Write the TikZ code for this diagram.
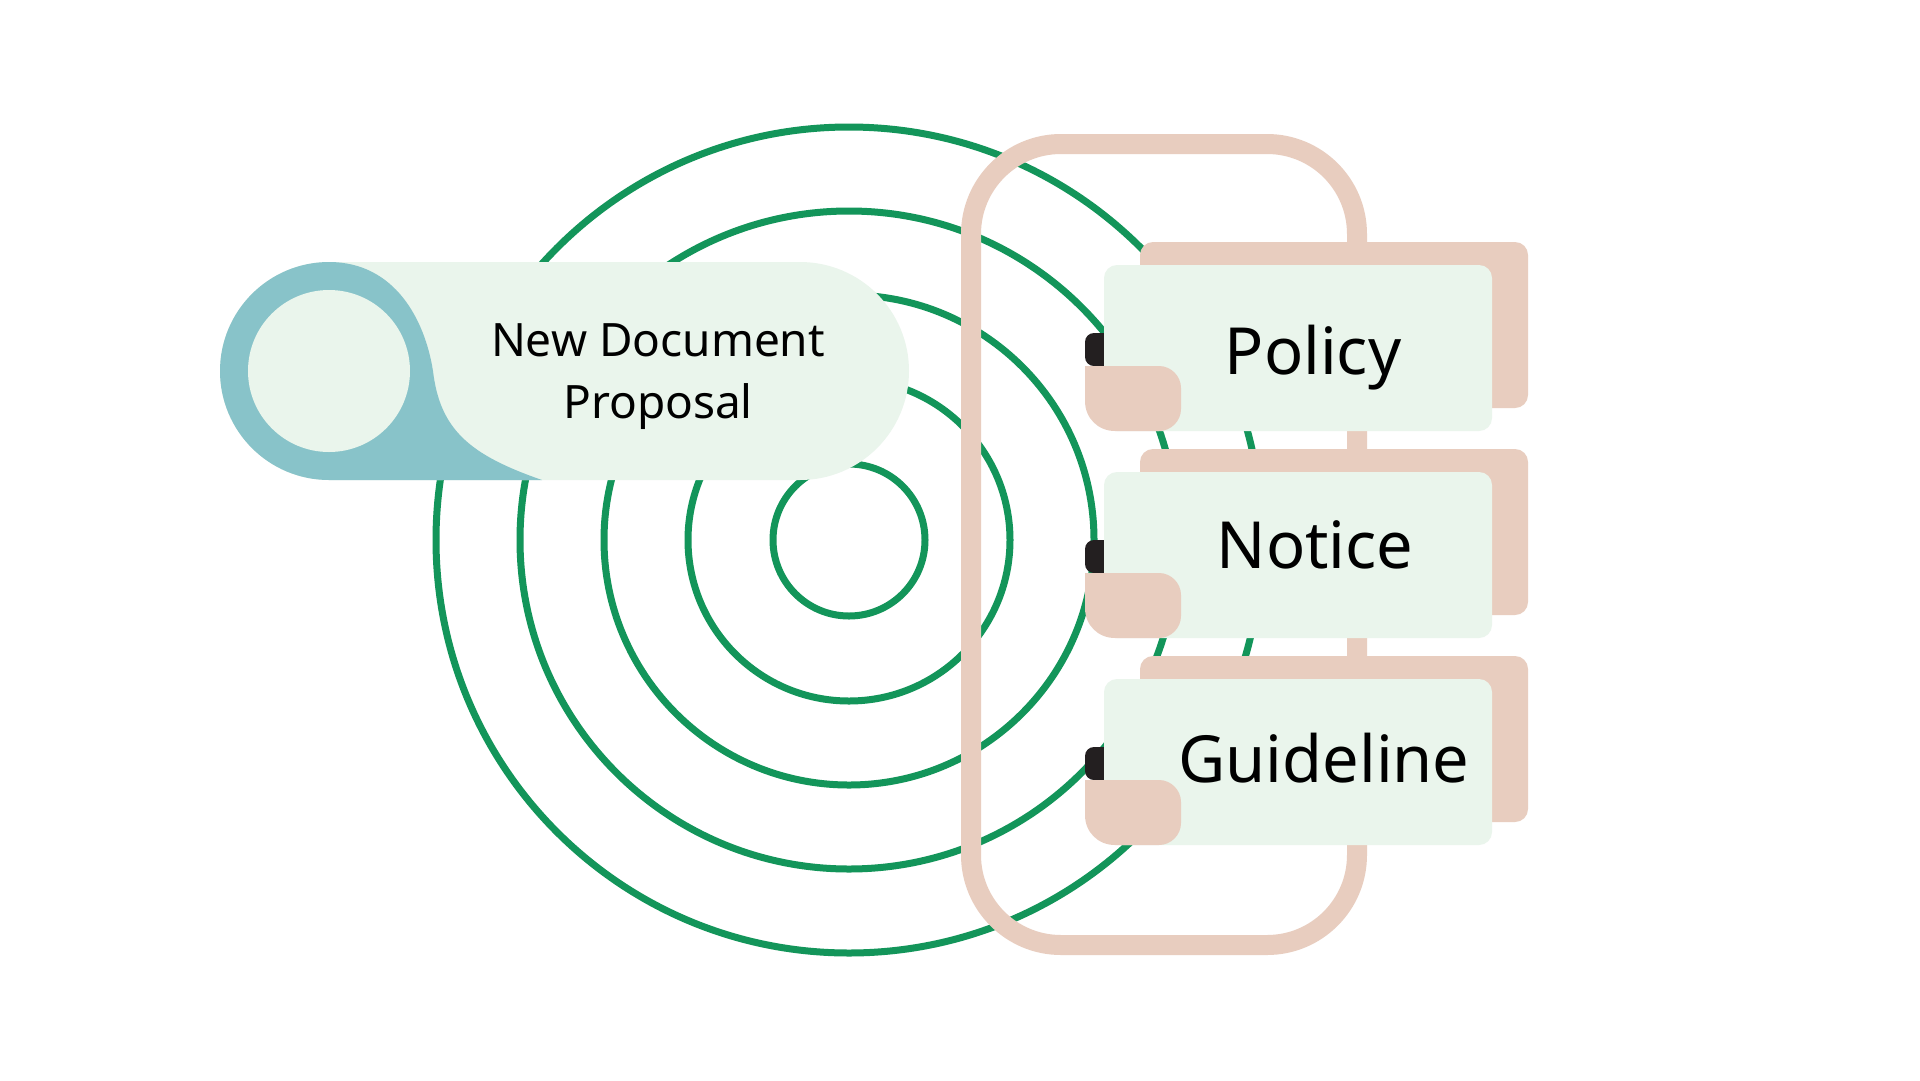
\documentclass[tikz,border=0pt]{standalone}
\usepackage{fontspec}
\setmainfont{Noto Sans}
\definecolor{ringgreen}{HTML}{13955A}
\definecolor{peach}{HTML}{E8CDBF}
\definecolor{teal}{HTML}{88C3C9}
\definecolor{mint}{HTML}{EAF5EC}
\definecolor{tabdark}{HTML}{231F20}
\tikzset{
  ring/.style={draw=ringgreen, line width=7},
  backbox/.style={fill=peach, rounded corners=13},
  frontbox/.style={fill=mint, rounded corners=13},
  darktab/.style={fill=tabdark, rounded corners=9},
  boxlabel/.style={anchor=base, inner sep=0, font=\fontsize{65}{65}\selectfont},
  cyllabel/.style={anchor=base, inner sep=0, font=\fontsize{46}{46}\selectfont},
}
\newcommand{\docbox}[1]{% #1 = vertical offset
  \begin{scope}[yshift=-#1]
    \fill[backbox] (1140,242) rectangle (1528,408);
    \fill[darktab] (1085,333) rectangle (1112,366);
    \fill[frontbox] (1104,265) rectangle (1492,431);
    \fill[peach] (1085,366) -- (1159,366) .. controls (1171,366) and (1181,376) .. (1181,388)
      -- (1181,409) .. controls (1181,421) and (1171,431) .. (1159,431)
      -- (1115,431) .. controls (1098,431) and (1085,418) .. (1085,401) -- cycle;
  \end{scope}
}
\begin{document}
\begin{tikzpicture}[x=1pt, y=-1pt]
\useasboundingbox (0,0) rectangle (1920,1080);
\fill[white] (0,0) rectangle (1920,1080);
% concentric rings
\coordinate (ctr) at (849,540);
\foreach \r in {76,161,245,329,413} {
  \draw[ring] (ctr) circle[radius=\r];
}
% cylinder
\fill[mint, rounded corners=109] (220,262) rectangle (909,480);
\fill[teal] (329,262) arc[start angle=270, end angle=90, radius=109]
  -- (542,480) .. controls (470,455) and (440,430) .. (433,371)
  .. controls (425,320) and (395,262) .. (329,262) -- cycle;
\fill[mint] (329,371) circle[radius=81];
\node[cyllabel] (l1) at (658,356) {New Document};
\node[cyllabel] (l2) at (658,418) {Proposal};
% frame
\draw[peach, line width=20, rounded corners=90] (971,144) rectangle (1357,945);
% boxes
\docbox{0}
\docbox{207}
\docbox{414}
\node[boxlabel] (policy) at (1313,374) {Policy};
\node[boxlabel] (notice) at (1315,568) {Notice};
\node[boxlabel] (guide) at (1324,782) {Guideline};
\end{tikzpicture}
\end{document}
